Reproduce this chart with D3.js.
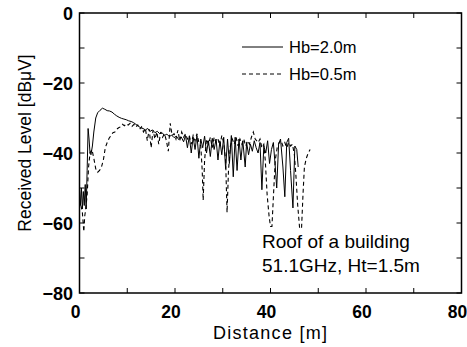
<!DOCTYPE html>
<html><head><meta charset="utf-8">
<script src="https://cdn.jsdelivr.net/npm/d3@7/dist/d3.min.js"></script>
<style>body{margin:0;background:#fff}svg{display:block}</style>
</head><body>
<script>
// ---- data ----
const xTicks = [0, 20, 40, 60, 80];
const yTicks = [0, -20, -40, -60, -80];
const seriesNames = ["Hb=2.0m", "Hb=0.5m"];
const annotation = ["Roof of a building", "51.1GHz, Ht=1.5m"];

const distA = [0.0,0.2,0.4,0.6,0.8,1.0,1.2,1.4,1.6,1.8,2.0,2.2,2.4,2.7,3.0,3.4,3.8,4.3,4.8,5.3,5.8,6.3,6.8,7.3,7.8,8.3,8.8,9.3,9.8,10.3,10.8,11.3,11.8,12.3,12.8,13.3,13.8,14.3,14.8,15.3,15.8,16.3,16.8,17.3,17.8,18.3,18.8,19.3,19.8,20.3,20.8,21.3,21.8,22.2,22.6,23.0,23.4,23.8,24.2,24.6,25.0,25.4,25.8,26.2,26.6,27.0,27.4,27.8,28.2,28.6,29.0,29.4,29.8,30.2,30.6,31.0,31.4,31.8,32.2,32.6,33.0,33.4,33.8,34.2,34.7,35.0,35.4,35.8,36.2,36.6,37.0,37.4,37.8,38.2,38.6,39.0,39.4,39.8,40.2,40.6,41.0,41.3,41.7,42.1,42.6,43.0,43.4,43.8,44.2,44.7,45.1,45.5,45.8];
const levelA = [-50,-55,-50,-56,-51,-55,-49,-56,-45,-33,-36,-40,-40.5,-38,-34,-30,-28.5,-27.8,-27.2,-27.5,-27.9,-28.0,-28.3,-28.9,-29.4,-29.8,-30.1,-30.3,-30.5,-30.8,-31.0,-31.3,-31.8,-32.3,-32.8,-33.0,-33.4,-33.0,-33.8,-33.4,-34.2,-33.8,-34.5,-34.2,-35.0,-34.6,-35.3,-34.9,-35.6,-35.2,-36.2,-35.4,-36.8,-35.0,-38.5,-35.2,-40.0,-35.5,-39.0,-35.0,-41.5,-36.0,-38.5,-35.2,-40.0,-36.5,-41.0,-35.8,-39.0,-36.0,-42.0,-36.5,-40.5,-35.5,-44.5,-36.0,-43.0,-35.0,-46.8,-35.5,-45.0,-36.0,-42.0,-36.5,-44.0,-37.0,-40.5,-37.5,-39.5,-36.5,-38.5,-40.0,-37.0,-50.5,-38.0,-40.0,-36.5,-43.0,-39.0,-37.0,-44.0,-50.0,-37.5,-36.0,-44.0,-52.5,-37.0,-35.8,-45.0,-55.7,-38.0,-39.0,-44.0];

const distB = [0.3,0.6,0.9,1.1,1.3,1.6,1.9,2.2,2.6,3.0,3.4,3.8,4.2,4.6,5.0,5.4,5.8,6.2,6.6,7.0,7.4,7.8,8.2,8.6,9.0,9.4,9.8,10.2,10.6,11.0,11.4,11.8,12.2,12.6,13.0,13.4,13.8,14.2,14.6,15.0,15.4,15.8,16.2,16.6,17.0,17.4,17.8,18.2,18.6,19.0,19.4,19.8,20.2,20.6,21.0,21.4,21.8,22.2,22.6,23.0,23.4,23.8,24.2,24.6,25.0,25.4,25.7,25.9,26.2,26.6,27.0,27.4,27.8,28.2,28.6,29.0,29.4,29.8,30.2,30.6,30.9,31.2,31.6,32.0,32.4,32.8,33.2,33.6,34.0,34.4,34.8,35.2,35.6,36.0,36.4,36.8,37.4,37.8,38.2,38.6,38.9,39.3,39.7,40.0,40.3,40.7,41.0,41.4,41.8,42.2,42.6,43.0,43.4,43.8,44.2,44.6,45.0,45.3,45.7,46.1,46.5,46.8,47.1,47.5,47.9,48.3];
const levelB = [-55,-57,-62.5,-58,-56,-52,-44,-40,-39,-41.5,-44.5,-45.5,-45.0,-44,-42,-38.5,-37,-35.8,-35.0,-34.2,-34.0,-33.2,-32.8,-32.5,-31.8,-32.2,-31.6,-32.0,-31.5,-32.4,-31.8,-32.6,-32.0,-33.2,-32.5,-34.0,-33.0,-36.5,-33.2,-38.5,-33.5,-36.0,-34.0,-37.5,-34.0,-35.5,-34.5,-36.5,-39.5,-31.5,-35.0,-34.5,-36.0,-33.5,-36.5,-34.0,-35.5,-34.5,-36.0,-35.0,-37.5,-35.0,-36.5,-34.5,-37.0,-38.0,-45.0,-53.5,-42.0,-36.0,-37.5,-35.5,-38.5,-35.5,-37.0,-36.0,-38.0,-35.0,-37.0,-42.0,-57.0,-45.0,-38.0,-36.0,-37.5,-35.5,-38.0,-36.0,-37.5,-36.0,-38.0,-36.5,-37.5,-35.5,-34.0,-36.0,-37.0,-36.0,-38.5,-37.5,-42.0,-52.0,-58.0,-61.0,-61.0,-50.0,-42.0,-38.5,-37.0,-36.5,-38.0,-37.0,-38.5,-37.0,-38.0,-37.5,-40.5,-46.0,-55.0,-61.5,-61.5,-52.0,-44.0,-41.5,-40.0,-39.0,-39.7];

// ---- layout ----
const W = 467, H = 347;
const L = 79.5, R = 461.5, T = 13, B = 293;
const svg = d3.select("body").append("svg").attr("width", W).attr("height", H);

const x = d3.scaleLinear().domain([0, 80]).range([L, R]);
const y = d3.scaleLinear().domain([-80, 0]).range([B, T]);

const font = "'Liberation Sans', Arial, sans-serif";

// ticks (inward) on all sides
const minorX = d3.range(0, 81, 10), minorY = d3.range(-80, 1, 10);
const tk = svg.append("g").attr("stroke", "#000").attr("stroke-width", 1);
minorX.forEach(v => {
  tk.append("line").attr("x1", x(v)).attr("x2", x(v)).attr("y1", B).attr("y2", B - 5);
  tk.append("line").attr("x1", x(v)).attr("x2", x(v)).attr("y1", T).attr("y2", T + 5);
});
minorY.forEach(v => {
  tk.append("line").attr("y1", y(v)).attr("y2", y(v)).attr("x1", L).attr("x2", L + 5);
  tk.append("line").attr("y1", y(v)).attr("y2", y(v)).attr("x1", R).attr("x2", R - 5);
});

// frame
svg.append("rect").attr("x", L).attr("y", T).attr("width", R - L).attr("height", B - T)
  .attr("fill", "none").attr("stroke", "#000").attr("stroke-width", 1.5);

// tick labels
svg.append("g").selectAll("text").data(xTicks).join("text")
  .attr("x", d => x(d) - 4).attr("y", 317.5).attr("text-anchor", "middle")
  .attr("font-family", font).attr("font-weight", "bold").attr("font-size", 17.5).text(d => d);
svg.append("g").selectAll("text").data(yTicks).join("text")
  .attr("x", 73).attr("y", d => y(d) + 6.5).attr("text-anchor", "end")
  .attr("font-family", font).attr("font-weight", "bold").attr("font-size", 18)
  .text(d => d < 0 ? "\u2212" + Math.abs(d) : d);

// axis titles
svg.append("text").attr("x", 270).attr("y", 339).attr("text-anchor", "middle")
  .attr("font-family", font).attr("font-size", 18).attr("textLength", 114)
  .text("Distance [m]");
svg.append("text").attr("transform", "translate(31,143) rotate(-90)").attr("text-anchor", "middle")
  .attr("font-family", font).attr("font-size", 17.5).text("Received Level [dB\u03bcV]");

// series
const line = d3.line().x(d => x(d[0])).y(d => y(d[1]));
const dataA = distA.map((d, i) => [d, levelA[i]]);
const dataB = distB.map((d, i) => [d, levelB[i]]);
svg.append("path").datum(dataB).attr("d", line).attr("fill", "none")
  .attr("stroke", "#000").attr("stroke-width", 1.1).attr("stroke-dasharray", "4,3");
svg.append("path").datum(dataA).attr("d", line).attr("fill", "none")
  .attr("stroke", "#000").attr("stroke-width", 1);

// legend
const lg = svg.append("g");
[[47, null], [74, "4,3"]].forEach((s, i) => {
  lg.append("line").attr("x1", 242).attr("x2", 283).attr("y1", s[0]).attr("y2", s[0])
    .attr("stroke", "#000").attr("stroke-width", 1).attr("stroke-dasharray", s[1]);
  lg.append("text").attr("x", 289).attr("y", s[0] + 6).attr("font-family", font)
    .attr("font-size", 16.5).text(seriesNames[i]);
});

// annotation
svg.append("g").selectAll("text").data(annotation).join("text")
  .attr("x", 262).attr("y", (d, i) => 248 + i * 24).attr("font-family", font)
  .attr("font-size", 19).text(d => d);
</script>
</body></html>
